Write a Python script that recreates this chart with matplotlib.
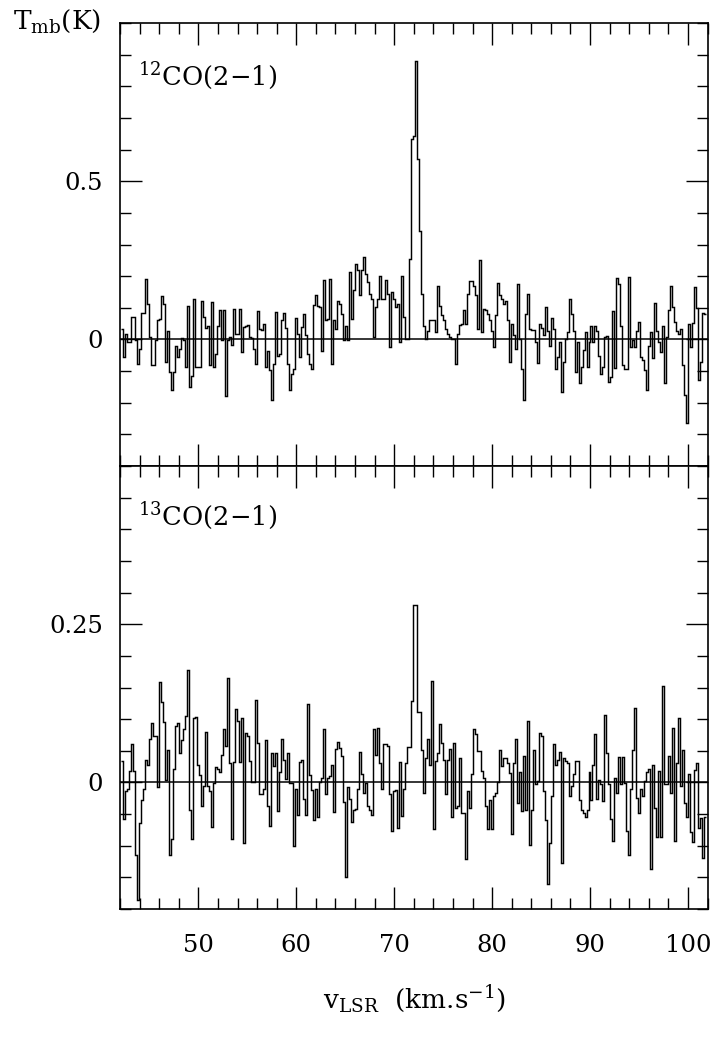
import numpy as np
import matplotlib
matplotlib.use('Agg')
import matplotlib.pyplot as plt
from matplotlib.ticker import MultipleLocator, FixedLocator, FixedFormatter

# ---- data -------------------------------------------------------------
v_first_edge = 42.11      # km/s, left edge of first channel
channel_width = 0.204     # km/s

co12_Tmb = [
    0.034, -0.056, 0.018, -0.008, -0.008, 0.071, 0.071, -0.003, -0.077, -0.029,
    0.083, 0.083, 0.192, 0.113, 0.007, -0.082, -0.082, -0.003, 0.06, 0.065,
    0.136, 0.113, -0.072, 0.028, -0.103, -0.161, -0.103, -0.022, -0.056, -0.029,
    0.004, -0.003, -0.087, 0.107, -0.151, -0.114, 0.128, -0.087, -0.087, -0.087,
    0.12, 0.071, 0.037, 0.044, -0.082, 0.118, -0.087, -0.045, 0.041, 0.092,
    -0.003, 0.092, -0.179, -0.003, 0.007, -0.019, 0.097, 0.018, 0.018, 0.097,
    -0.04, 0.039, 0.044, 0.047, 0.007, 0.005, -0.029, -0.077, 0.089, 0.034,
    0.031, 0.049, -0.087, -0.035, -0.098, -0.19,
    -0.077, 0.086, -0.051, -0.045, 0.06, 0.083, 0.037, -0.077, -0.161, -0.108,
    -0.093, 0.068, 0.018, -0.056, 0.039, 0.081, 0.013, -0.045, -0.077, -0.093,
    0.11, 0.139, 0.107, 0.102, -0.035, 0.188, 0.06, 0.065, 0.192, -0.077,
    0.06, 0.034, 0.12, 0.113, 0.081, -0.003, 0.044, -0.003, 0.213, 0.065,
    0.155, 0.237, 0.22, 0.139, 0.218, 0.26, 0.207, 0.181, 0.144, 0.128,
    0.007, 0.102, 0.128, 0.202,
    0.128, 0.128, 0.188, 0.144, -0.024, 0.15, 0.128, 0.102, 0.113, -0.008,
    0.202, 0.07, 0.002, 0.002, 0.255, 0.634, 0.644, 0.879, 0.57, 0.344,
    0.144, 0.044, 0.0, 0.028, 0.06, 0.062, 0.06, 0.025, 0.17, 0.105,
    0.076, 0.06, 0.034, 0.018, 0.007, 0.0, 0.002, -0.077, 0.018, 0.047,
    0.05, 0.094, 0.05, 0.144, 0.184, 0.186, 0.17, 0.139, 0.034, 0.252,
    0.023, 0.097, 0.092, 0.081, 0.06, 0.028, -0.024, 0.076, 0.178, 0.139,
    0.128, 0.113, 0.123, 0.06, -0.072, 0.05, 0.013, -0.03, 0.174, 0.002,
    -0.093, -0.19, 0.081, 0.144, 0.034, 0.031, 0.031, -0.008, -0.075, 0.05,
    0.037, 0.013, 0.102, 0.028, -0.022, 0.068, 0.034, -0.093, -0.056, -0.008,
    -0.166, -0.072, 0.002, 0.023, 0.128,
    0.079, 0.028, -0.103, -0.008, -0.138, -0.087, -0.033, 0.023, -0.087, -0.008,
    0.041, -0.008, 0.044, 0.028, -0.051, -0.108, -0.087, 0.007, 0.011, -0.135,
    -0.119, 0.089, -0.091, 0.194, 0.176, 0.044, -0.082, -0.093, -0.093, 0.197,
    -0.024, -0.001, -0.024, 0.028, 0.055, -0.056, -0.066, -0.098, -0.161, -0.022,
    0.023, -0.058, 0.115, 0.028, -0.008, -0.04, 0.041, -0.138, 0.007, 0.094,
    0.168, 0.102, 0.055, 0.028, 0.018, 0.034, -0.082, -0.177, -0.263, 0.049,
    -0.024, 0.052, 0.165, 0.099, -0.127, -0.072, 0.083, 0.079,
]

co13_Tmb = [
    0.034, -0.058, -0.014, -0.011, 0.018, 0.06, 0.018, -0.115, -0.185, -0.064,
    -0.027, -0.01, 0.036, 0.028, 0.068, 0.094, 0.073, 0.073, -0.008, 0.159,
    0.127, 0.096, 0.004, 0.051, -0.114, -0.089, 0.022, 0.089, 0.094, 0.047,
    0.067, 0.084, 0.105, 0.178, -0.043, -0.089, 0.102, 0.103, 0.028, 0.011,
    -0.038, -0.006, 0.079, -0.005, -0.014, -0.07, -0.001, 0.025, 0.021, 0.016,
    0.044, 0.085, 0.057, 0.165, 0.031, -0.089, 0.032, 0.116, 0.097, 0.033,
    0.102, -0.096, 0.078, 0.073, 0.034, 0.001, 0.001, 0.13, 0.062, -0.019,
    -0.019, -0.01,
    0.067, -0.037, -0.069, 0.047, 0.026, 0.047, -0.045, 0.016, 0.068, 0.035,
    0.006, 0.046, -0.001, -0.001, -0.101, -0.01, -0.051, 0.032, 0.035, -0.026,
    -0.052, 0.124, 0.011, -0.012, -0.059, -0.01, -0.054, 0.001, 0.007, 0.084,
    -0.019, 0.007, 0.01, 0.028, -0.047, 0.053, 0.064, 0.055, 0.041, -0.031,
    -0.149, -0.007, -0.026, -0.063, -0.044, -0.042, -0.01, 0.048, 0.013, -0.016,
    -0.001, -0.037, -0.043, -0.051, 0.085, 0.043, 0.086, 0.031, -0.01, 0.06,
    0.06, 0.057, -0.019, -0.077, -0.014, -0.012, -0.072, 0.032, -0.053, -0.01,
    0.031, 0.056, 0.056, 0.128,
    0.281, 0.281,
    0.111, 0.111, 0.051, -0.016, 0.039, 0.068, 0.028, 0.16, -0.073, 0.034,
    0.047, 0.093, 0.062, 0.036, -0.019, 0.035, 0.053, -0.054, 0.063, -0.04,
    -0.037, 0.039, -0.049, -0.049, -0.121, -0.014, -0.04, 0.014, 0.085, 0.076,
    0.049, 0.049, 0.018, 0.007, -0.037, -0.074, -0.028, -0.074, -0.022, -0.016,
    0.001, 0.052, 0.026, 0.039, 0.039, 0.031, 0.015, -0.082, 0.03, 0.069,
    -0.032, 0.016, -0.045, 0.042, -0.044, 0.097, -0.099, -0.044, 0.051, -0.003,
    0.002, 0.078, 0.073, -0.014, -0.059, -0.161, -0.096, -0.022, 0.06, 0.028,
    0.036, 0.048,
    -0.127, 0.039, 0.034, 0.03, -0.022, -0.005, 0.013, 0.034, 0.034, -0.027,
    -0.043, -0.048, -0.055, -0.043, 0.016, -0.028, 0.027, 0.077, -0.026, 0.004,
    -0.003, -0.029, 0.107, 0.047, -0.003, -0.057, -0.093, 0.007, -0.017, 0.04,
    -0.002, 0.04, -0.001, -0.077, -0.114, -0.011, 0.051, 0.117, -0.024, -0.049,
    -0.01, -0.021, 0.002, 0.016, 0.021, -0.137, 0.028, -0.04, -0.087, 0.018,
    -0.087, 0.152, -0.002, -0.003, 0.041, -0.016, 0.086, -0.093, 0.031, 0.102,
    -0.005, 0.051, -0.032, -0.054, 0.013, -0.079, -0.094, 0.019, 0.03, -0.072,
    -0.056, -0.119, -0.055,
]

x_range = (42.0, 102.05)
top_ylim = (-0.4, 1.0)
bot_ylim = (-0.2, 0.5)
top_yticks = [0, 0.5]
top_yticklabels = ['0', '0.5']
bot_yticks = [0, 0.25]
bot_yticklabels = ['0', '0.25']
x_major = [50, 60, 70, 80, 90, 100]
x_ticklabels = ['50', '60', '70', '80', '90', '100']
line_labels = [r'$^{12}$CO(2$-$1)', r'$^{13}$CO(2$-$1)']

# ---- plotting ---------------------------------------------------------
plt.rcParams['font.family'] = ['DejaVu Serif']
plt.rcParams['mathtext.fontset'] = 'dejavuserif'
FS = 17.5

W, H = 722, 1039
fig = plt.figure(figsize=(W / 100, H / 100), dpi=100)
left = 120 / W
width = (708 - 120) / W
ax1 = fig.add_axes([left, 1 - 466 / H, width, (466 - 23) / H])
ax2 = fig.add_axes([left, 1 - 909 / H, width, (909 - 466) / H], sharex=ax1)


def draw(ax, vals, ylim, yt, ytl, ymin, label, lab_y):
    vals = np.asarray(vals)
    edges = v_first_edge + channel_width * np.arange(len(vals) + 1)
    ax.stairs(vals, edges, baseline=None, color='black', lw=1.05)
    ax.axhline(0, color='black', lw=1.1)
    ax.set_xlim(*x_range)
    ax.set_ylim(*ylim)
    ax.xaxis.set_major_locator(FixedLocator(x_major))
    ax.xaxis.set_minor_locator(MultipleLocator(2))
    ax.yaxis.set_major_locator(FixedLocator(yt))
    ax.yaxis.set_major_formatter(FixedFormatter(ytl))
    ax.yaxis.set_minor_locator(MultipleLocator(ymin))
    ax.tick_params(which='both', direction='in', top=True, right=True,
                   width=1.0, labelsize=FS)
    ax.tick_params(which='major', length=16)
    ax.tick_params(which='minor', length=8)
    ax.tick_params(axis='y', pad=12)
    ax.tick_params(axis='x', pad=18)
    for s in ax.spines.values():
        s.set_linewidth(1.2)
    ax.text(0.03, lab_y, label, transform=ax.transAxes, fontsize=FS + 1,
            ha='left', va='baseline')


draw(ax1, co12_Tmb, top_ylim, top_yticks, top_yticklabels, 0.1,
     line_labels[0], 0.86)
draw(ax2, co13_Tmb, bot_ylim, bot_yticks, bot_yticklabels, 0.05,
     line_labels[1], 0.867)
ax1.tick_params(labelbottom=False)
ax2.xaxis.set_major_formatter(FixedFormatter(x_ticklabels))

fig.text(13 / W, 1 - 29 / H, r'T$_{\rm mb}$(K)', fontsize=FS + 1.5,
         ha='left', va='baseline')
fig.text(415 / W, 1 - 1009 / H, r'v$_{\rm LSR}$  (km.s$^{-1}$)',
         fontsize=FS + 1.5, ha='center', va='baseline')

fig.savefig('out.png', dpi=100)
